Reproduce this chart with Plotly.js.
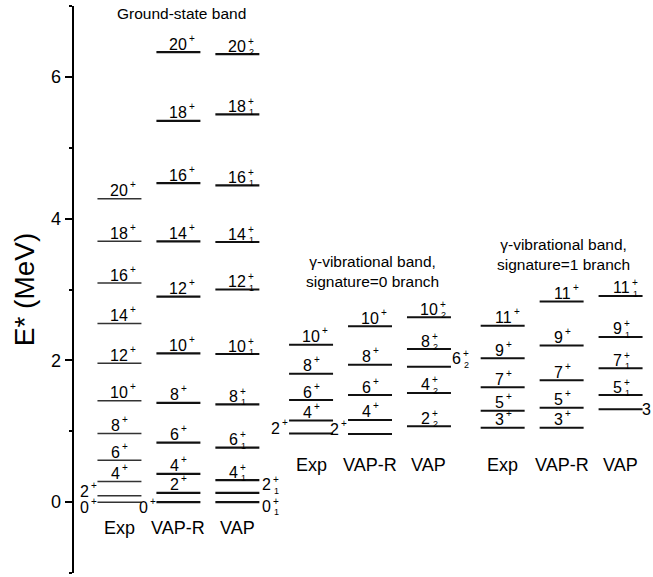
<!DOCTYPE html>
<html><head><meta charset="utf-8">
<script src="https://cdn.plot.ly/plotly-3.0.1.min.js"></script>
<style>html,body{margin:0;padding:0;background:#fff}#chart{width:653px;height:577px}</style>
</head><body><div id="chart"></div>
<script>
// ---------------- data ----------------
const columnNames = ['Exp', 'VAP-R', 'VAP'];
const groupTitles = ['Ground-state band',
  'γ-vibrational band,<br>signature=0 branch',
  'γ-vibrational band,<br>signature=1 branch'];

// Ground-state band (spin, energies in MeV)
const gsbSpins  = [0, 2, 4, 6, 8, 10, 12, 14, 16, 18, 20];
const gsbExp    = [0, 0.09, 0.29, 0.59, 0.97, 1.43, 1.96, 2.52, 3.09, 3.68, 4.28];
const gsbVapR   = [0, 0.13, 0.40, 0.84, 1.40, 2.10, 2.90, 3.68, 4.50, 5.38, 6.35];
const gsbVap    = [0, 0.13, 0.31, 0.77, 1.38, 2.09, 3.00, 3.67, 4.47, 5.47, 6.32];
const gsbVapIdx = [1, 1, 1, 1, 1, 1, 1, 1, 1, 1, 2];

// gamma band, signature = 0 branch
const gam0Spins  = [2, 4, 6, 8, 10];
const gam0Exp    = [0.97, 1.15, 1.44, 1.81, 2.22];
const gam0VapR   = [0.96, 1.16, 1.51, 1.94, 2.48];
const gam0Vap    = [1.07, 1.54, 1.91, 2.16, 2.61];
const gam0VapIdx = [2, 2, 2, 2, 2];

// gamma band, signature = 1 branch
const gam1Spins  = [3, 5, 7, 9, 11];
const gam1Exp    = [1.05, 1.29, 1.62, 2.03, 2.49];
const gam1VapR   = [1.05, 1.33, 1.72, 2.21, 2.83];
const gam1Vap    = [1.31, 1.51, 1.89, 2.33, 2.91];
const gam1VapIdx = [null, 1, 1, 1, 1];

// label placement (style only)
const gsbExpPos  = ['left-down', 'left-up', 'top', 'top', 'top', 'top', 'top', 'top', 'top', 'top', 'top'];
const gsbVapRPos = ['left-down', 'top', 'top', 'top', 'top', 'top', 'top', 'top', 'top', 'top', 'top'];
const gsbVapPos  = ['right-down', 'right-up', 'top', 'top', 'top', 'top', 'top', 'top', 'top', 'top', 'top'];
const gam0ExpPos = ['left', 'top', 'top', 'top', 'top'];
const gam0VapRPos= ['left', 'top', 'top', 'top', 'top'];
const gam0VapPos = ['top', 'top', 'right', 'top', 'top'];
const gam1ExpPos = ['top', 'top', 'top', 'top', 'top'];
const gam1VapRPos= ['top', 'top', 'top', 'top', 'top'];
const gam1VapPos = ['edge', 'top', 'top', 'top', 'top'];

// ---------------- build ----------------
const FONT = 'Arial, "Liberation Sans", sans-serif';
const GROUP_STEP = 3.25, HW = 0.373;
const colX = (g, c) => g * GROUP_STEP + c;

const columns = [
  {g:0, c:0, E:gsbExp,  spins:gsbSpins,  idx:null,      pos:gsbExpPos,  color:'#333', w:1.5},
  {g:0, c:1, E:gsbVapR, spins:gsbSpins,  idx:null,      pos:gsbVapRPos, color:'#111', w:2.2},
  {g:0, c:2, E:gsbVap,  spins:gsbSpins,  idx:gsbVapIdx, pos:gsbVapPos,  color:'#111', w:2.2},
  {g:1, c:0, E:gam0Exp, spins:gam0Spins, idx:null,      pos:gam0ExpPos, color:'#111', w:2},
  {g:1, c:1, E:gam0VapR,spins:gam0Spins, idx:null,      pos:gam0VapRPos,color:'#111', w:2},
  {g:1, c:2, E:gam0Vap, spins:gam0Spins, idx:gam0VapIdx,pos:gam0VapPos, color:'#111', w:2},
  {g:2, c:0, E:gam1Exp, spins:gam1Spins, idx:null,      pos:gam1ExpPos, color:'#111', w:2},
  {g:2, c:1, E:gam1VapR,spins:gam1Spins, idx:null,      pos:gam1VapRPos,color:'#111', w:2},
  {g:2, c:2, E:gam1Vap, spins:gam1Spins, idx:gam1VapIdx,pos:gam1VapPos, color:'#111', w:2}
];

const traces = [];
const ann = [];

function addLabel(x, E, base, idx, place) {
  let refX = x, dx, dy, plus = true;
  const nd = base.length;
  switch (place) {
    case 'top':        dx = nd > 1 ? 10 : 2; dy = 8; break;
    case 'left':       refX = x - HW; dx = -8; dy = 5; break;
    case 'left-up':    refX = x - HW; dx = -7; dy = 4; break;
    case 'left-down':  refX = x - HW; dx = -7; dy = -5; break;
    case 'right':      refX = x + HW; dx = 2 + 9 * nd; dy = 8; break;
    case 'right-up':   refX = x + HW; dx = 4 + 9 * nd; dy = 8; break;
    case 'right-down': refX = x + HW; dx = 4 + 9 * nd; dy = -4; break;
    case 'edge':       refX = x + HW; dx = 9 * nd; dy = 0; plus = false; break;
  }
  const common = {xref:'x', yref:'y', x:refX, y:E, showarrow:false, yanchor:'middle', borderpad:0};
  ann.push(Object.assign({}, common, {text: base, xanchor:'right', xshift:dx, yshift:dy,
    font:{family:FONT, size:16, color:'#000'}}));
  if (plus) ann.push(Object.assign({}, common, {text:'+', xanchor:'left', xshift:dx, yshift:dy + (idx ? 5 : 6),
    font:{family:FONT, size:10, color:'#000'}}));
  if (plus && idx) ann.push(Object.assign({}, common, {text:String(idx), xanchor:'left', xshift:dx + 1, yshift:dy - 6,
    font:{family:FONT, size:9, color:'#000'}}));
}

columns.forEach(col => {
  const x0 = colX(col.g, col.c);
  const xs = [], ys = [];
  col.E.forEach((e, i) => {
    xs.push(x0 - HW, x0 + HW, null);
    ys.push(e, e, null);
    addLabel(x0, e, String(col.spins[i]), col.idx ? col.idx[i] : null, col.pos[i]);
  });
  traces.push({type:'scatter', mode:'lines', x:xs, y:ys, hoverinfo:'skip',
    line:{color:col.color, width:col.w}, showlegend:false, cliponaxis:false});
});

// column names
const colNameY = [-0.36, 0.53, 0.53];
[0,1,2].forEach(g => columnNames.forEach((n, c) => {
  ann.push({xref:'x', yref:'y', x:colX(g, c), y:colNameY[g], text:n, showarrow:false,
    xanchor:'center', yanchor:'middle', font:{family:FONT, size:18, color:'#000'}});
}));

// group titles
ann.push({xref:'x', yref:'paper', x:colX(0,1), y:1, xshift:3, yshift:-7, text:groupTitles[0], showarrow:false,
  xanchor:'center', yanchor:'middle', font:{family:FONT, size:15.5, color:'#000'}});
ann.push({xref:'x', yref:'y', x:colX(1,1), y:3.26, xshift:2, text:groupTitles[1], showarrow:false,
  xanchor:'center', yanchor:'middle', font:{family:FONT, size:15.5, color:'#000'}});
ann.push({xref:'x', yref:'y', x:colX(2,1), y:3.50, xshift:2, text:groupTitles[2], showarrow:false,
  xanchor:'center', yanchor:'middle', font:{family:FONT, size:15.5, color:'#000'}});

const layout = {
  width:653, height:577,
  margin:{l:74, r:0, t:6, b:4},
  paper_bgcolor:'#fff', plot_bgcolor:'#fff',
  showlegend:false,
  xaxis:{range:[-0.771, 9.05], visible:false, fixedrange:true},
  yaxis:{range:[-1, 7], tick0:0, dtick:2, showgrid:false, zeroline:false,
    showline:true, linecolor:'#000', linewidth:2.5,
    ticks:'outside', ticklen:7, tickwidth:2, tickcolor:'#000',
    minor:{dtick:1, tick0:0, ticks:'outside', ticklen:3, tickwidth:2, tickcolor:'#000'},
    tickfont:{family:FONT, size:18, color:'#000'},
    title:{text:'E* (MeV)', font:{family:FONT, size:28, color:'#000'}, standoff:8}},
  annotations: ann
};

Plotly.newPlot('chart', traces, layout, {displayModeBar:false, staticPlot:true});
</script></body></html>
